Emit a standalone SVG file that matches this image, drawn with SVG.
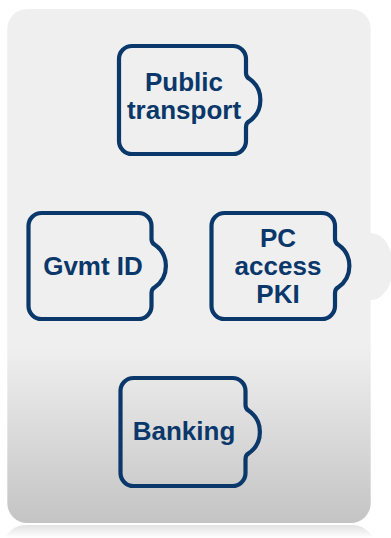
<svg xmlns="http://www.w3.org/2000/svg" width="391" height="538" viewBox="0 0 391 538">
  <defs>
    <linearGradient id="panelGrad" gradientUnits="userSpaceOnUse" x1="0" y1="9" x2="0" y2="523">
      <stop offset="0" stop-color="#efefef"/>
      <stop offset="0.66" stop-color="#efefef"/>
      <stop offset="1" stop-color="#c4c4c4"/>
    </linearGradient>
    <linearGradient id="reflGrad" gradientUnits="userSpaceOnUse" x1="0" y1="525" x2="0" y2="538">
      <stop offset="0" stop-color="#e2e2e2"/>
      <stop offset="1" stop-color="#ffffff"/>
    </linearGradient>
    <style>
      .node { fill: none; stroke: #0a386b; stroke-width: 4.2; stroke-linejoin: round; }
      .label { font-family: "Liberation Sans", Arial, sans-serif; font-weight: bold; font-size: 26px; fill: #0a386b; text-anchor: middle; }
    </style>
  </defs>
  <rect x="0" y="0" width="391" height="538" fill="#ffffff"/>
  <g id="panel">
    <path d="M27,525 H351 Q366,525 373,538 H5 Q12,525 27,525 Z" fill="url(#reflGrad)"/>
    <ellipse cx="371" cy="266.5" rx="22" ry="33.5" fill="#efefef"/>
    <rect x="7.3" y="9" width="363.4" height="514" rx="20" ry="20" fill="url(#panelGrad)"/>
  </g>
  <g id="connectors"/>
  <g id="node-public-transport">
    <path class="node" d="M132,46 H233 A13 13 0 0 1 246,59 V73 Q246,77 249,78.5 A26 26 0 0 1 249,121.5 Q246,123 246,127 V141 A13 13 0 0 1 233,154 H132 A13 13 0 0 1 119,141 V59 A13 13 0 0 1 132,46 Z"/>
    <text class="label" x="184" y="90.8">Public</text>
    <text class="label" x="184" y="118.8">transport</text>
  </g>
  <g id="node-gvmt-id">
    <path class="node" d="M41.5,213 H138.5 A13 13 0 0 1 151.5,226 V239 Q151.5,243 154.5,244.5 A26 26 0 0 1 154.5,287.5 Q151.5,289 151.5,293 V306 A13 13 0 0 1 138.5,319 H41.5 A13 13 0 0 1 28.5,306 V226 A13 13 0 0 1 41.5,213 Z"/>
    <text class="label" x="93" y="275">Gvmt ID</text>
  </g>
  <g id="node-pc-access-pki">
    <path class="node" d="M224.5,213 H322 A13 13 0 0 1 335,226 V239 Q335,243 338,244.5 A26 26 0 0 1 338,287.5 Q335,289 335,293 V306 A13 13 0 0 1 322,319 H224.5 A13 13 0 0 1 211.5,306 V226 A13 13 0 0 1 224.5,213 Z"/>
    <text class="label" x="278" y="246.7">PC</text>
    <text class="label" x="278" y="275">access</text>
    <text class="label" x="278" y="302.5">PKI</text>
  </g>
  <g id="node-banking">
    <path class="node" d="M133.5,378 H232.5 A13 13 0 0 1 245.5,391 V405 Q245.5,409 248.5,410.5 A26 26 0 0 1 248.5,453.5 Q245.5,455 245.5,459 V473 A13 13 0 0 1 232.5,486 H133.5 A13 13 0 0 1 120.5,473 V391 A13 13 0 0 1 133.5,378 Z"/>
    <text class="label" x="184" y="440">Banking</text>
  </g>
</svg>
